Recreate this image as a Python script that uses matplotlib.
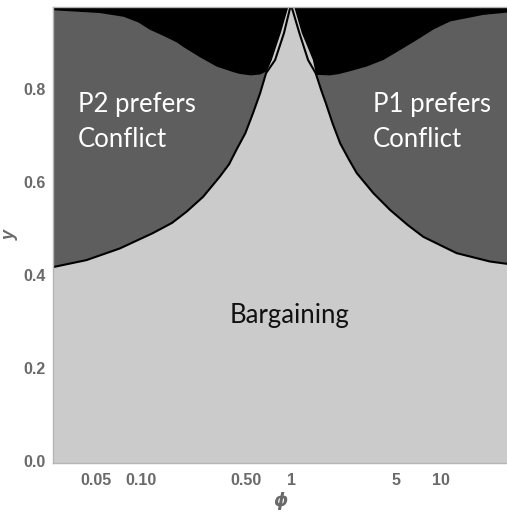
import matplotlib.pyplot as plt
from matplotlib.ticker import FixedLocator, FixedFormatter

# boundary of the bargaining region (black line)
bargain_left_phi = [0.0256, 0.0428, 0.0715, 0.119, 0.160, 0.200, 0.258, 0.333,
                    0.385, 0.431, 0.495, 0.557, 0.620, 0.681, 0.782, 0.897,
                    0.982, 1.0]
bargain_left_y = [0.417, 0.432, 0.457, 0.490, 0.512, 0.536, 0.568, 0.611,
                  0.638, 0.669, 0.705, 0.748, 0.790, 0.834, 0.862, 0.920,
                  0.972, 0.976]
bargain_right_phi = [1.0, 1.018, 1.137, 1.30, 1.46, 1.60, 1.71, 1.90, 2.13,
                     2.42, 2.75, 3.55, 4.59, 6.0, 7.67, 12.8, 21.4, 27.9, 39.0]
bargain_right_y = [0.976, 0.972, 0.920, 0.862, 0.834, 0.795, 0.769, 0.725,
                   0.683, 0.650, 0.619, 0.576, 0.540, 0.508, 0.482, 0.447,
                   0.429, 0.424, 0.417]

# outer edge of the light slivers next to phi = 1
sliver_left_phi = [0.681, 0.743, 0.853, 0.959]
sliver_left_y = [0.834, 0.862, 0.920, 0.976]
sliver_right_phi = [1.05, 1.18, 1.40, 1.46]
sliver_right_y = [0.976, 0.920, 0.862, 0.834]

# lower edge of the black region at the top
black_left_phi = [0.0256, 0.0527, 0.0759, 0.095, 0.114, 0.140, 0.172, 0.1905,
                  0.246, 0.318, 0.411, 0.456, 0.540, 0.621, 0.69]
black_left_y = [0.969, 0.963, 0.955, 0.943, 0.927, 0.914, 0.900, 0.890,
                0.868, 0.848, 0.836, 0.832, 0.829, 0.831, 0.838]
black_right_phi = [1.52, 1.82, 2.10, 2.48, 3.20, 4.14, 5.40, 6.93, 9.0, 11.6,
                   19.3, 27.9, 39.0]
black_right_y = [0.830, 0.829, 0.832, 0.838, 0.848, 0.862, 0.884, 0.905,
                 0.928, 0.945, 0.959, 0.964, 0.966]

x_ticks = [0.05, 0.1, 0.5, 1, 5, 10]
x_tick_labels = ["0.05", "0.10", "0.50", "1", "5", "10"]
y_ticks = [0.0, 0.2, 0.4, 0.6, 0.8]
y_tick_labels = ["0.0", "0.2", "0.4", "0.6", "0.8"]

LIGHT = "#cbcbcb"
DARK = "#5e5e5e"
GREY_TEXT = "#6a6a6a"
X_MIN, X_MAX = 0.0256, 39.0
Y_MIN, Y_MAX = -0.004, 0.976

fig = plt.figure(figsize=(5.07, 5.12), dpi=100)
ax = fig.add_axes([53 / 507, 49 / 512, 476 / 507, 456 / 512])
ax.set_xscale("log")
ax.set_xlim(X_MIN, X_MAX)
ax.set_ylim(Y_MIN, Y_MAX)
ax.set_facecolor(DARK)

# black region at the top
black_x = black_left_phi + black_right_phi + [X_MAX, X_MIN]
black_y = black_left_y + black_right_y + [Y_MAX, Y_MAX]
ax.fill(black_x, black_y, color="black", lw=0)

# light bargaining region, including the slivers
cut = 0.834
bl = [(p, v) for p, v in zip(bargain_left_phi, bargain_left_y) if v < cut]
br = [(p, v) for p, v in zip(bargain_right_phi, bargain_right_y) if v < cut]
light_x = ([X_MIN] + [p for p, _ in bl] + sliver_left_phi + sliver_right_phi
           + [p for p, _ in br] + [X_MAX])
light_y = ([Y_MIN] + [v for _, v in bl] + sliver_left_y + sliver_right_y
           + [v for _, v in br] + [Y_MIN])
ax.fill(light_x, light_y, color=LIGHT, lw=0)

ax.plot(bargain_left_phi, bargain_left_y, color="black", lw=1.5, solid_capstyle="round")
ax.plot(bargain_right_phi, bargain_right_y, color="black", lw=1.5, solid_capstyle="round")

label_font = ["Lato", "DejaVu Sans"]
ax.text(0.0376, 0.728, "P2 prefers\nConflict", color="white",
        fontsize=18.5, family=label_font, ha="left", va="center", linespacing=1.5)
ax.text(3.52, 0.728, "P1 prefers\nConflict", color="white",
        fontsize=18.5, family=label_font, ha="left", va="center", linespacing=1.5)
ax.text(0.98, 0.314, "Bargaining", color="#111111",
        fontsize=18.5, family=label_font, ha="center", va="center")

ax.xaxis.set_major_locator(FixedLocator(x_ticks))
ax.xaxis.set_major_formatter(FixedFormatter(x_tick_labels))
ax.xaxis.set_minor_locator(FixedLocator([]))
ax.set_yticks(y_ticks)
ax.set_yticklabels(y_tick_labels)
for lab in ax.get_xticklabels() + ax.get_yticklabels():
    lab.set_family(["Liberation Sans", "DejaVu Sans"])
    lab.set_fontweight("bold")
    lab.set_color(GREY_TEXT)
    lab.set_fontsize(11.5)
ax.tick_params(axis="x", length=0, pad=7)
ax.tick_params(axis="y", length=0, pad=5)

ax.set_xlabel(r"$\boldsymbol{\phi}$", color=GREY_TEXT, fontsize=13)
ax.xaxis.set_label_coords((281 - 53) / 476, (463 - 490) / 456)
ax.set_ylabel("y", color=GREY_TEXT, fontsize=13, style="italic",
              family=["Liberation Sans", "DejaVu Sans"], fontweight="bold")
ax.yaxis.set_label_coords((19 - 53) / 476, 0.5)

for spine in ax.spines.values():
    spine.set_color("#b5b5b5")
    spine.set_linewidth(1.0)

fig.savefig("out.png", dpi=100)
